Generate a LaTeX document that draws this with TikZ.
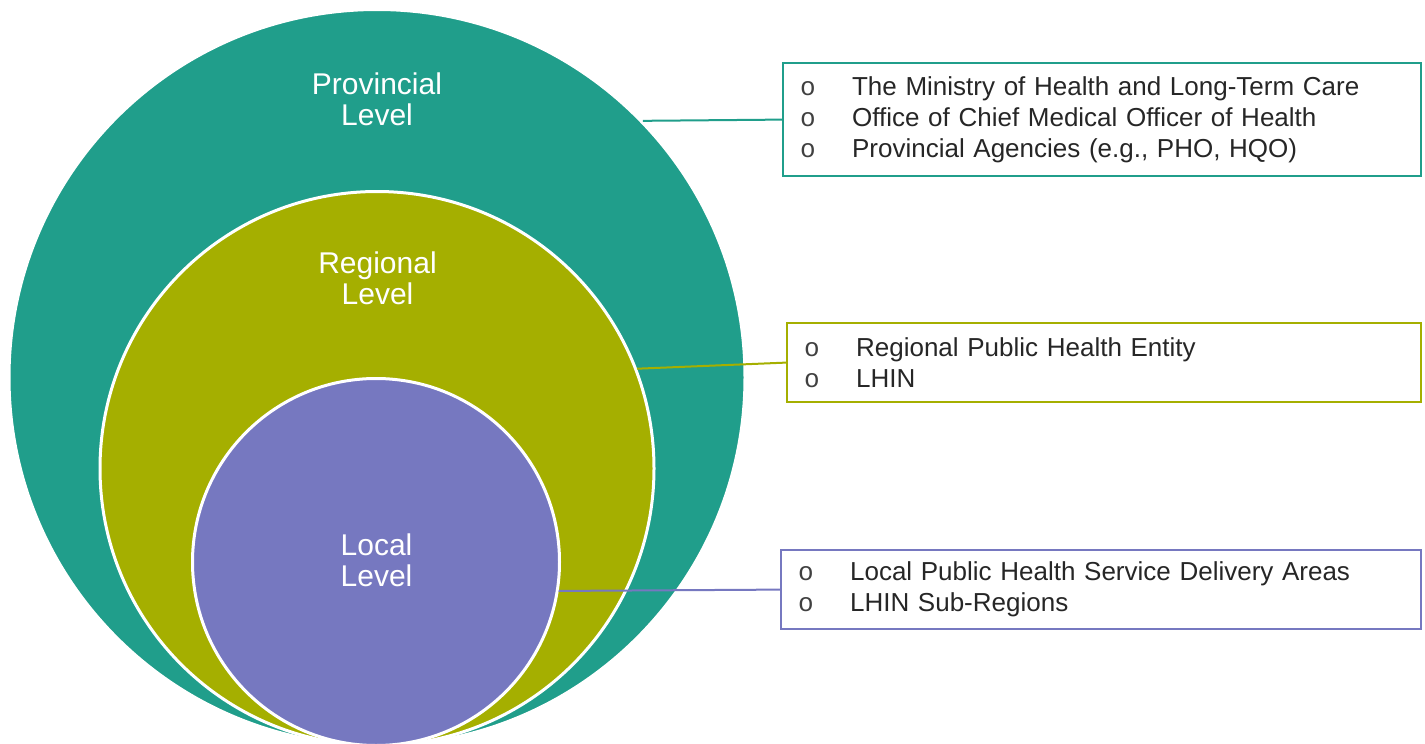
\documentclass[tikz,border=0pt]{standalone}
\usepackage{fontspec}
\setmainfont{Liberation Sans}
\newfontfamily\bulletfont{Liberation Mono}
\usetikzlibrary{positioning}
\usepackage{xcolor}

\definecolor{provteal}{RGB}{32,158,139}
\definecolor{regolive}{RGB}{165,175,0}
\definecolor{locpurple}{RGB}{118,120,192}

\newcommand{\bitem}[1]{\makebox[52pt][l]{{\bulletfont\color{black!75}o}}#1}

\begin{document}
\begin{tikzpicture}[
    x=1pt, y=-1pt,
    level/.style={circle, draw=white, line width=3pt, inner sep=0pt, fill=#1},
    leveltext/.style={align=center, text=white, font=\fontsize{30}{31}\selectfont},
    infobox/.style={rectangle, draw=#1, line width=2.2pt, anchor=north west, align=left, inner xsep=17pt, font=\fontsize{26}{31}\selectfont, text=black!85},
    link/.style={line width=2pt}
]

\useasboundingbox (0,0) rectangle (1425,744);

% Nested circles
\node[level=provteal, minimum size=736pt] (prov) at (377,377.5) {};
\node[level=regolive, minimum size=554pt] (reg) at (377,468.5) {};
\node[level=locpurple, minimum size=367pt] (loc) at (376,562) {};

% Level names
\node[leveltext] (provlabel) at (377,99.5) {Provincial\\Level};
\node[leveltext] (reglabel) at (377.5,278.5) {Regional\\Level};
\node[leveltext] (loclabel) at (376.5,560.5) {Local\\Level};

% Boxes
\node[infobox=provteal, text width=604pt, minimum height=113pt] (provbox) at (782,62)
    {\bitem{The Ministry of Health and Long-Term Care}\\
     \bitem{Office of Chief Medical Officer of Health}\\
     \bitem{Provincial Agencies (e.g., PHO, HQO)}};
\node[infobox=regolive, text width=600pt, minimum height=79pt] (regbox) at (786,322)
    {\bitem{Regional Public Health Entity}\\
     \bitem{LHIN}};
\node[infobox=locpurple, text width=606pt, minimum height=79pt] (locbox) at (780,549)
    {\bitem{Local Public Health Service Delivery Areas}\\
     \bitem{LHIN Sub-Regions}};

% Connections
\draw[link, provteal] (prov.44.2) -- (provbox.west);
\draw[link, regolive] (reg.21.2) -- (regbox.west);
\draw[link, locpurple] (loc.-9.3) -- (locbox.west);

\end{tikzpicture}
\end{document}
